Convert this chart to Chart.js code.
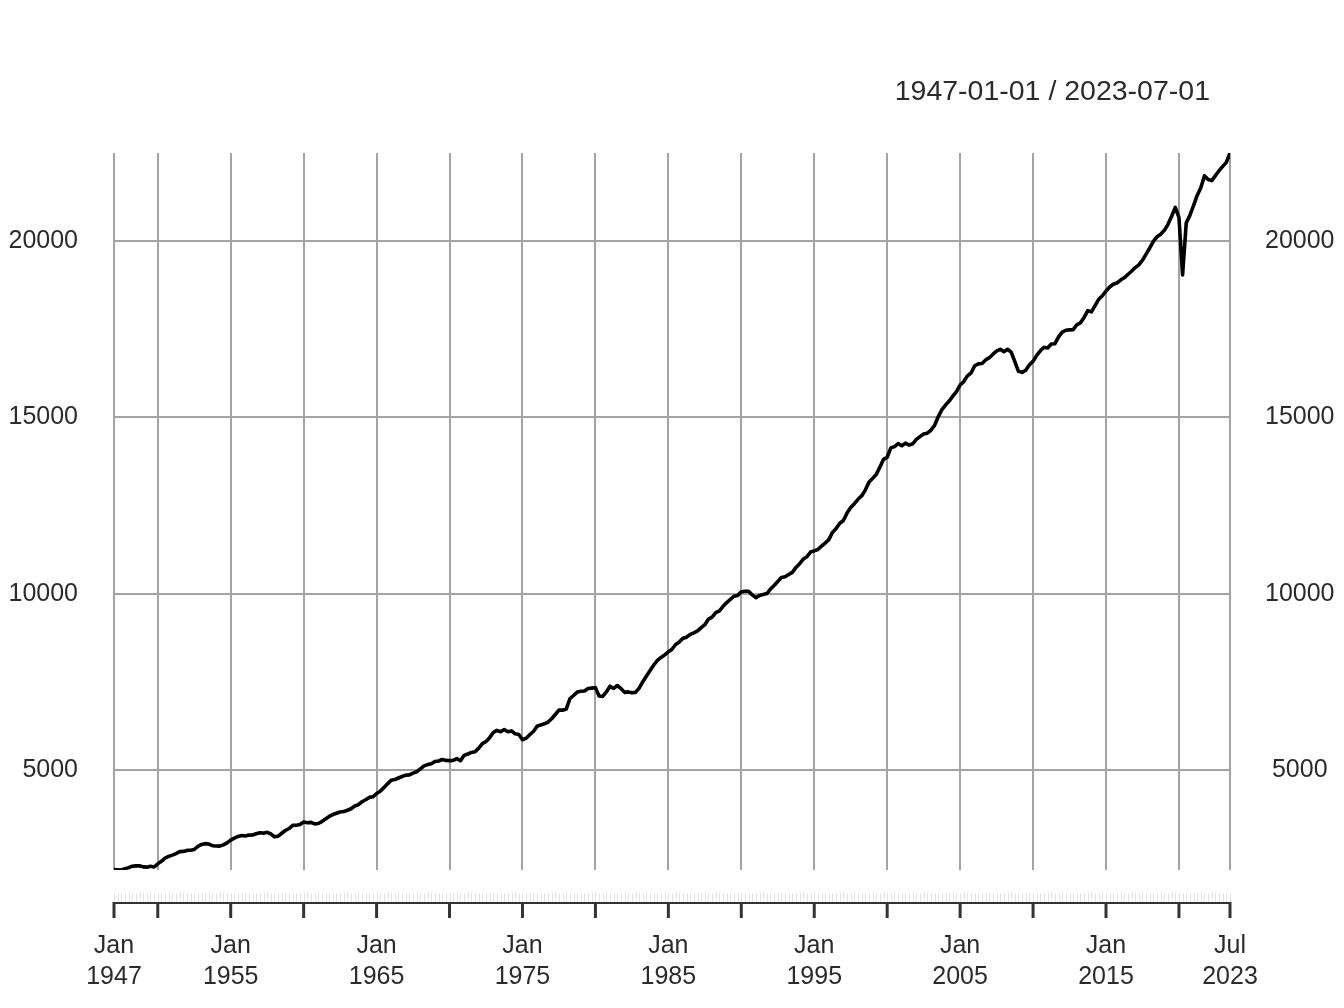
<!DOCTYPE html>
<html>
<head>
<meta charset="utf-8">
<script src="https://cdn.jsdelivr.net/npm/chart.js@4/dist/chart.umd.min.js"></script>
<style>
  html, body { margin: 0; padding: 0; background: #fff; }
  #wrap { width: 1344px; height: 1008px; position: relative; }
</style>
</head>
<body>
<div id="wrap"><canvas id="gdpChart"></canvas></div>
<script>
const periodLabel = "1947-01-01 / 2023-07-01";

const gdp = [
  2182.7, 2176.9, 2172.4, 2206.5, // 1947
  2239.7, 2276.7, 2289.8, 2292.4, // 1948
  2260.8, 2253.1, 2276.4, 2257.4, // 1949
  2346.1, 2417.7, 2511.1, 2559.2, // 1950
  2593.9, 2638.9, 2693.3, 2699.6, // 1951
  2727.5, 2733.0, 2753.1, 2843.9, // 1952
  2896.0, 2919.5, 2906.7, 2860.6, // 1953
  2850.7, 2848.8, 2884.3, 2941.3, // 1954
  3019.5, 3075.3, 3122.3, 3147.9, // 1955
  3135.8, 3160.8, 3163.8, 3201.5, // 1956
  3227.9, 3217.0, 3240.8, 3196.6, // 1957
  3112.4, 3130.6, 3213.1, 3292.8, // 1958
  3347.7, 3438.1, 3442.0, 3459.8, // 1959
  3530, 3510, 3522, 3478,         // 1960
  3490, 3545, 3620, 3690,         // 1961
  3744, 3780, 3817, 3828,         // 1962
  3866, 3908, 3987, 4023,         // 1963
  4106, 4164, 4230, 4247,         // 1964
  4340, 4407, 4506, 4614,         // 1965
  4715, 4737, 4780, 4823,         // 1966
  4860, 4866, 4917, 4956,         // 1967
  5038, 5124, 5160, 5183,         // 1968
  5249, 5261, 5304, 5279,         // 1969
  5271, 5278, 5328, 5270,         // 1970
  5422, 5458, 5505, 5522,         // 1971
  5626, 5755, 5814, 5923,         // 1972
  6068, 6129, 6092, 6153,         // 1973
  6090, 6114, 6031, 6011,         // 1974
  5863, 5908, 6007, 6098,         // 1975
  6245, 6284, 6315, 6363,         // 1976
  6458, 6580, 6703, 6702,         // 1977
  6734, 7026, 7117, 7214,         // 1978
  7236, 7244, 7315, 7327,         // 1979
  7341, 7104, 7092, 7219,         // 1980
  7380, 7317, 7401, 7315,         // 1981
  7206, 7220, 7194, 7206,         // 1982
  7326, 7510, 7671, 7828,         // 1983
  7982, 8113, 8197, 8269,         // 1984
  8353, 8429, 8563, 8632,         // 1985
  8739, 8771, 8852, 8893,         // 1986
  8947, 9039, 9124, 9283,         // 1987
  9338, 9468, 9519, 9646,         // 1988
  9753, 9840, 9930, 9954,         // 1989
  10055, 10073, 10072, 9970,      // 1990
  9892, 9953, 9982, 10007,        // 1991
  10135, 10237, 10348, 10461,     // 1992
  10481, 10547, 10607, 10748,     // 1993
  10853, 10985, 11052, 11184,     // 1994
  11217, 11256, 11350, 11438,     // 1995
  11536, 11739, 11849, 11998,     // 1996
  12078, 12288, 12444, 12553,     // 1997
  12678, 12773, 12939, 13161,     // 1998
  13271, 13381, 13589, 13810,     // 1999
  13870, 14134, 14172, 14257,     // 2000
  14194, 14268, 14215, 14251,     // 2001
  14375, 14453, 14527, 14551,     // 2002
  14635, 14773, 15019, 15217,     // 2003
  15349, 15461, 15600, 15727,     // 2004
  15917, 16014, 16176, 16256,     // 2005
  16462, 16516, 16524, 16628,     // 2006
  16690, 16790, 16880, 16930,     // 2007
  16860, 16930, 16850, 16580,     // 2008
  16305, 16274, 16335, 16488,     // 2009
  16588, 16758, 16885, 16988,     // 2010
  16966, 17079, 17087, 17281,     // 2011
  17415, 17469, 17480, 17487,     // 2012
  17624, 17679, 17833, 18024,     // 2013
  17989, 18164, 18346, 18446,     // 2014
  18578, 18693, 18772, 18808,     // 2015
  18890, 18954, 19048, 19141,     // 2016
  19244, 19320, 19453, 19625,     // 2017
  19800, 19990, 20120, 20190,     // 2018
  20300, 20470, 20700, 20951,     // 2019
  20665.6, 19034.8, 20511.8, 20724.1, // 2020
  21001.6, 21289.3, 21505.0, 21847.5, // 2021
  21738.9, 21708.2, 21851.1, 21989.9, // 2022
  22112.3, 22225.4, 22491.6           // 2023
];

// x ticks, as quarter index counted from 1947 Q1
const xTickQuarter = [0, 12, 32, 52, 72, 92, 112, 132, 152, 172, 192, 212, 232, 252, 272, 292, 306];
const xTickMonth   = ["Jan", "", "Jan", "", "Jan", "", "Jan", "", "Jan", "", "Jan", "", "Jan", "", "Jan", "", "Jul"];
const xTickYear    = ["1947", "", "1955", "", "1965", "", "1975", "", "1985", "", "1995", "", "2005", "", "2015", "", "2023"];

const yTickValues = [5000, 10000, 15000, 20000];

const textColor = "#2b2b2b";
const gridColor = "#a3a3a3";
const fontFamily = "'Liberation Sans', Arial, Helvetica, sans-serif";

const yMin = Math.min(...gdp);
const yMax = Math.max(...gdp);

// Titre + bande des observations + axe du bas (style xts)
const xtsDecor = {
    id: "xtsDecor",
    afterDraw(chart) {
        const ctx = chart.ctx;
        const area = chart.chartArea;
        const xs = chart.scales.x;
        ctx.save();

        // petites marques grises pour chaque observation
        ctx.strokeStyle = "#e4e4e4";
        ctx.lineWidth = 1;
        gdp.forEach((v, i) => {
            const px = Math.round(xs.getPixelForValue(i)) + 0.5;
            ctx.beginPath();
            ctx.moveTo(px, area.bottom + 23);
            ctx.lineTo(px, area.bottom + 32);
            ctx.stroke();
        });

        // ligne d'axe
        ctx.strokeStyle = "#333";
        ctx.lineWidth = 2;
        ctx.beginPath();
        ctx.moveTo(xs.getPixelForValue(0), area.bottom + 33);
        ctx.lineTo(xs.getPixelForValue(gdp.length - 1), area.bottom + 33);
        ctx.stroke();

        // graduations
        ctx.lineWidth = 3;
        xTickQuarter.forEach((q) => {
            const px = xs.getPixelForValue(q);
            ctx.beginPath();
            ctx.moveTo(px, area.bottom + 32);
            ctx.lineTo(px, area.bottom + 48);
            ctx.stroke();
        });

        // titre de periode
        ctx.fillStyle = textColor;
        ctx.font = "28.5px " + fontFamily;
        ctx.textAlign = "right";
        ctx.textBaseline = "middle";
        ctx.fillText(periodLabel, area.right - 20, 92);

        ctx.restore();
    },
};

const ctx = document.getElementById("gdpChart").getContext("2d");
new Chart(ctx, {
    type: "line",
    data: {
        datasets: [{
            data: gdp.map((v, i) => ({ x: i, y: v })),
            borderColor: "#000",
            borderWidth: 3.6,
            borderJoinStyle: "round",
            borderCapStyle: "round",
            pointRadius: 0,
            tension: 0,
            fill: false,
        }],
    },
    options: {
        responsive: true,
        maintainAspectRatio: false,
        animation: false,
        devicePixelRatio: 1,
        layout: { padding: { top: 153, left: 0, right: 0, bottom: 0 } },
        plugins: {
            legend: { display: false },
            tooltip: { enabled: false },
            title: { display: false },
        },
        scales: {
            x: {
                type: "linear",
                min: 0,
                max: gdp.length - 1,
                afterBuildTicks: (scale) => {
                    scale.ticks = xTickQuarter.map((q) => ({ value: q }));
                },
                afterFit: (scale) => { scale.height = 138; },
                grid: { color: gridColor, lineWidth: 2, drawTicks: false },
                border: { display: false },
                ticks: {
                    autoSkip: false,
                    maxRotation: 0,
                    padding: 61,
                    color: textColor,
                    font: { family: fontFamily, size: 25, lineHeight: 1.24 },
                    callback: (value) => {
                        const k = xTickQuarter.indexOf(value);
                        if (k < 0 || xTickMonth[k] === "") return "";
                        return [xTickMonth[k], xTickYear[k]];
                    },
                },
            },
            y: {
                position: "left",
                min: yMin,
                max: yMax,
                afterBuildTicks: (scale) => {
                    scale.ticks = yTickValues.map((v) => ({ value: v }));
                },
                afterFit: (scale) => { scale.width = 114; },
                grid: { color: gridColor, lineWidth: 2, drawTicks: false },
                border: { display: false },
                ticks: {
                    padding: 36,
                    color: textColor,
                    font: { family: fontFamily, size: 25 },
                    callback: (v) => String(v),
                },
            },
            y2: {
                position: "right",
                min: yMin,
                max: yMax,
                afterBuildTicks: (scale) => {
                    scale.ticks = yTickValues.map((v) => ({ value: v }));
                },
                afterFit: (scale) => { scale.width = 114; },
                grid: { display: false, drawTicks: false },
                border: { display: false },
                ticks: {
                    padding: 35,
                    crossAlign: "center",
                    color: textColor,
                    font: { family: fontFamily, size: 25 },
                    callback: (v) => String(v),
                },
            },
        },
    },
    plugins: [xtsDecor],
});
</script>
</body>
</html>
